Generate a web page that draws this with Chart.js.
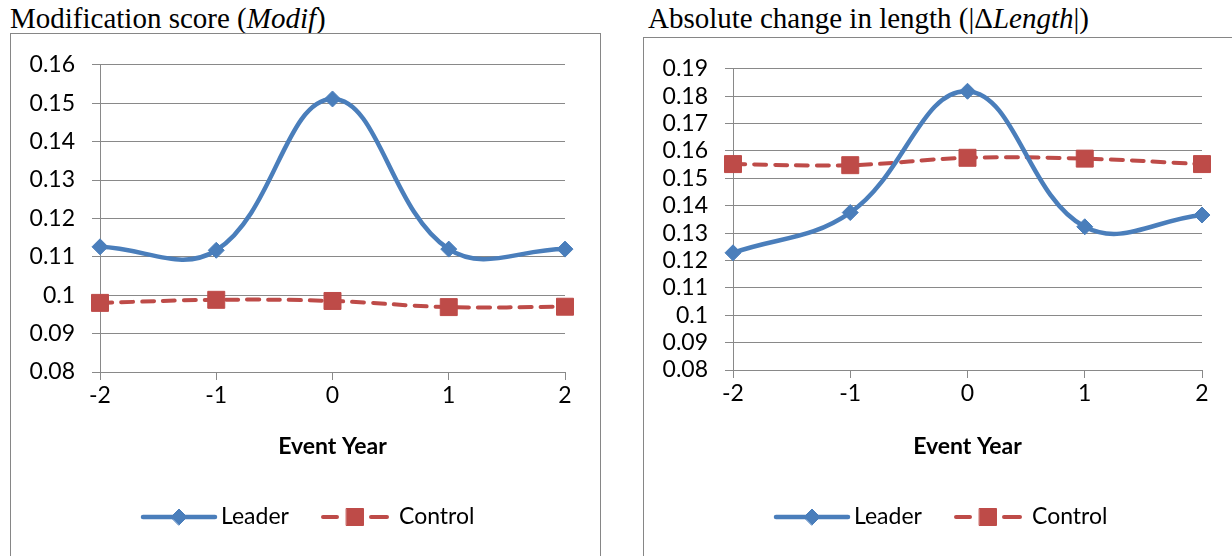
<!DOCTYPE html>
<html>
<head>
<meta charset="utf-8">
<script src="https://cdn.jsdelivr.net/npm/chart.js@4.4.1/dist/chart.umd.min.js"></script>
<style>
  body { margin: 0; width: 1232px; height: 556px; overflow: hidden; background: #fff; position: relative; }
  .title { position: absolute; font-family: "Liberation Serif", "Times New Roman", serif; font-size: 29px; color: #000; white-space: nowrap; line-height: 1; }
  .box { position: absolute; border: 1px solid #868686; width: 589px; height: 560px; }
  .wrap { position: relative; width: 589px; }
</style>
</head>
<body>
<div class="title" style="left:10px; top:4px">Modification score (<i>Modif</i>)</div>
<div class="title" style="left:648px; top:4px">Absolute change in length (|Δ<i>Length</i>|)</div>

<div class="box" style="left:10px; top:33px"><div class="wrap" style="height:522px"><canvas id="modifChart"></canvas></div></div>
<div class="box" style="left:643px; top:37px"><div class="wrap" style="height:518px"><canvas id="lengthChart"></canvas></div></div>

<script>
const years = ["-2", "-1", "0", "1", "2"];

const modifLeader = [0.1126, 0.1117, 0.1511, 0.1120, 0.1120];
const modifControl = [0.0980, 0.0988, 0.0985, 0.0969, 0.0970];
const modifTicks = ["0.08", "0.09", "0.1", "0.11", "0.12", "0.13", "0.14", "0.15", "0.16"];

const lengthLeader = [0.1228, 0.1375, 0.1818, 0.1323, 0.1366];
const lengthControl = [0.1552, 0.1548, 0.1575, 0.1572, 0.1552];
const lengthTicks = ["0.08", "0.09", "0.1", "0.11", "0.12", "0.13", "0.14", "0.15", "0.16", "0.17", "0.18", "0.19"];

const gray = "#898989";
const blue = "#4A7EBB";
const red = "#BE4B48";
const font = "Lato, 'Open Sans', sans-serif";

// legend with line + marker, like the spreadsheet one
const lineLegend = {
  id: "lineLegend",
  afterDraw(chart, args, opts) {
    const ctx = chart.ctx;
    ctx.save();
    ctx.font = "23px " + font;
    ctx.textBaseline = "middle";
    ctx.fillStyle = "#000";
    chart.data.datasets.forEach((ds, i) => {
      const it = opts.items[i];
      const y = opts.y;
      ctx.strokeStyle = ds.borderColor;
      ctx.lineWidth = ds.borderWidth;
      ctx.lineCap = "round";
      ctx.setLineDash([]);
      ctx.beginPath();
      if (ds.borderDash) {
        ctx.moveTo(it.x0, y); ctx.lineTo(it.x0 + 14, y);
        ctx.moveTo(it.x1 - 16, y); ctx.lineTo(it.x1, y);
      } else {
        ctx.moveTo(it.x0, y); ctx.lineTo(it.x1, y);
      }
      ctx.stroke();
      ctx.fillStyle = ds.backgroundColor;
      ctx.lineWidth = 1;
      Chart.helpers.drawPoint(ctx, { pointStyle: ds.pointStyle, radius: ds.pointRadius, borderWidth: 1 }, (it.x0 + it.x1) / 2, y);
      ctx.fillStyle = "#000";
      ctx.fillText(ds.label, it.tx, y);
    });
    ctx.restore();
  }
};

function makeChart(id, leader, control, ticks, plotBottom, plotRight, legendY) {
  const ctx = document.getElementById(id).getContext("2d");
  return new Chart(ctx, {
    type: "line",
    data: {
      labels: years,
      datasets: [
        {
          label: "Leader",
          data: leader,
          borderColor: blue,
          backgroundColor: blue,
          borderWidth: 4.5,
          tension: 0.4,
          pointStyle: "rectRot",
          pointRadius: 8,
          pointBorderWidth: 1,
          clip: false,
        },
        {
          label: "Control",
          data: control,
          borderColor: red,
          backgroundColor: red,
          borderWidth: 4,
          borderDash: [12, 9],
          borderCapStyle: "round",
          tension: 0.4,
          pointStyle: "rect",
          pointRadius: 12,
          pointBorderWidth: 1,
          clip: false,
        },
      ],
    },
    options: {
      responsive: true,
      maintainAspectRatio: false,
      animation: false,
      layout: { padding: { top: 28, right: plotRight, left: 0, bottom: 0 } },
      plugins: {
        legend: { display: false },
        tooltip: { enabled: false },
        lineLegend: {
          y: legendY,
          items: [
            { x0: 132, x1: 204, tx: 210 },
            { x0: 312, x1: 376, tx: 388 },
          ],
        },
      },
      scales: {
        x: {
          type: "category",
          offset: false,
          grid: { display: true, drawOnChartArea: false, drawTicks: true, tickLength: 8, color: gray },
          border: { display: true, color: gray, width: 1 },
          ticks: { color: "#000", font: { family: font, size: 23 }, padding: 2, maxRotation: 0, autoSkip: false },
          title: { display: true, text: "Event Year", color: "#000", font: { family: font, size: 23, weight: "bold" }, padding: { top: 0, bottom: 96 } },
          afterFit(scale) { scale.height = plotBottom; },
        },
        y: {
          min: +ticks[0],
          max: +ticks[ticks.length - 1],
          grid: { color: gray, tickLength: 8, drawTicks: true },
          border: { display: true, color: gray, width: 1 },
          ticks: {
            color: "#000",
            font: { family: font, size: 23 },
            padding: 17,
            autoSkip: false,
            callback: (v, i) => ticks[i],
          },
          afterBuildTicks(scale) { scale.ticks = ticks.map(t => ({ value: +t })); },
          afterFit(scale) { scale.width = 89; },
        },
      },
    },
    plugins: [lineLegend],
  });
}

makeChart("modifChart", modifLeader, modifControl, modifTicks, 184, 35, 483);
makeChart("lengthChart", lengthLeader, lengthControl, lengthTicks, 186, 31, 479);
</script>
</body>
</html>
